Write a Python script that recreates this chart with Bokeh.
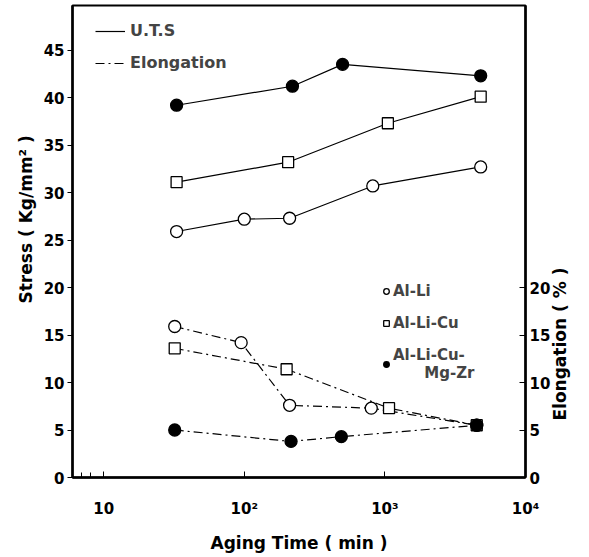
from math import pi
from bokeh.plotting import figure
from bokeh.models import LinearAxis, FixedTicker, Legend, LegendItem, Title
from bokeh.embed import file_html
from bokeh.resources import INLINE

# Aging time (min) and ultimate tensile strength (Kg/mm^2)
uts_li_t = [33, 100, 210, 820, 4800]
uts_li = [25.9, 27.2, 27.3, 30.7, 32.7]
uts_cu_t = [33, 205, 1050, 4800]
uts_cu = [31.1, 33.2, 37.3, 40.1]
uts_mg_t = [33, 220, 500, 4800]
uts_mg = [39.2, 41.2, 43.5, 42.3]

# Aging time (min) and elongation (%)
el_li_t = [32, 95, 210, 800, 4500]
el_li = [15.9, 14.2, 7.6, 7.3, 5.5]
el_cu_t = [32, 200, 1070, 4500]
el_cu = [13.6, 11.4, 7.3, 5.5]
el_mg_t = [32, 215, 490, 4500]
el_mg = [5.0, 3.8, 4.3, 5.5]

stress_ticks = [0, 5, 10, 15, 20, 25, 30, 35, 40, 45]
elong_ticks = [0, 5, 10, 15, 20]
time_ticks = [10, 100, 1000, 10000]
time_tick_labels = {10: "10", 100: "10\u00b2", 1000: "10\u00b3", 10000: "10\u2074"}

FONT = "DejaVu Sans"
FS = "15px"
BOLD = "bold"

p = figure(width=589, height=557, x_axis_type="log", x_range=(6, 10000),
           y_range=(0, 49.7), output_backend="svg", toolbar_location=None,
           min_border_left=72, min_border_right=64, min_border_top=5,
           min_border_bottom=80)
p.grid.visible = False
p.outline_line_color = "black"
p.outline_line_width = 2
p.background_fill_color = "white"
p.border_fill_color = "white"

# left axis
ya = p.yaxis[0]
ya.ticker = FixedTicker(ticks=stress_ticks)
ya.major_tick_out = 5
ya.major_tick_in = 0
ya.minor_tick_out = 0
ya.minor_tick_in = 0
ya.axis_line_width = 2.5
ya.major_tick_line_width = 1.2
ya.major_label_text_font = FONT
ya.major_label_text_font_size = FS
ya.major_label_text_font_style = BOLD
ya.major_label_text_color = "black"
ya.major_label_standoff = 3

# bottom axis
xa = p.xaxis[0]
xa.ticker = FixedTicker(ticks=time_ticks, minor_ticks=[7, 8])
xa.major_label_overrides = time_tick_labels
xa.major_tick_in = 6
xa.major_tick_out = 0
xa.minor_tick_in = 5
xa.minor_tick_out = 0
xa.axis_line_width = 2.5
xa.major_label_text_font = FONT
xa.major_label_text_font_size = FS
xa.major_label_text_font_style = BOLD
xa.major_label_text_color = "black"
xa.major_label_standoff = 22
xa.axis_label = "Aging Time ( min )"
xa.axis_label_text_font = FONT
xa.axis_label_text_font_size = "17px"
xa.axis_label_text_font_style = BOLD
xa.axis_label_text_color = "black"
xa.axis_label_standoff = 12

# right axis (elongation)
ra = LinearAxis(ticker=FixedTicker(ticks=elong_ticks))
ra.major_tick_in = 6
ra.major_tick_out = 0
ra.minor_tick_in = 0
ra.minor_tick_out = 0
ra.axis_line_width = 2.5
ra.major_label_text_font = FONT
ra.major_label_text_font_size = FS
ra.major_label_text_font_style = BOLD
ra.major_label_text_color = "black"
ra.major_label_standoff = 4
p.add_layout(ra, "right")

# right axis title, set along the lower part of the axis
ELONG_TITLE_AT = 6
ta = LinearAxis(ticker=FixedTicker(ticks=[ELONG_TITLE_AT]),
                major_label_overrides={ELONG_TITLE_AT: "Elongation ( % )"},
                major_label_orientation=pi / 2)
ta.axis_line_color = None
ta.major_tick_line_color = None
ta.minor_tick_line_color = None
ta.major_tick_in = 0
ta.major_tick_out = 0
ta.major_label_text_font = FONT
ta.major_label_text_font_size = "17px"
ta.major_label_text_font_style = BOLD
ta.major_label_text_color = "black"
ta.major_label_standoff = 7
p.add_layout(ta, "right")

LW = 1.2
DASH = "9 4 2 4"

# lines
uts_lines = []
for t, v in [(uts_li_t, uts_li), (uts_cu_t, uts_cu), (uts_mg_t, uts_mg)]:
    uts_lines.append(p.line(t, v, line_color="black", line_width=LW))
el_lines = []
for t, v in [(el_li_t, el_li), (el_cu_t, el_cu), (el_mg_t, el_mg)]:
    el_lines.append(p.line(t, v, line_color="black", line_width=LW, line_dash=DASH))

# markers
r_li = p.scatter(uts_li_t, uts_li, marker="circle", size=12, fill_color="white",
                 line_color="black", line_width=1.3)
p.scatter(el_li_t, el_li, marker="circle", size=12, fill_color="white",
          line_color="black", line_width=1.3)
r_cu = p.scatter(uts_cu_t, uts_cu, marker="square", size=11, fill_color="white",
                 line_color="black", line_width=1.3)
p.scatter(el_cu_t, el_cu, marker="square", size=11, fill_color="white",
          line_color="black", line_width=1.3)
r_mg = p.scatter(uts_mg_t, uts_mg, marker="circle", size=12, fill_color="black",
                 line_color="black", line_width=1.3)
p.scatter(el_mg_t, el_mg, marker="circle", size=12, fill_color="black",
          line_color="black", line_width=1.3)

# line-style legend
leg1 = Legend(items=[LegendItem(label="U.T.S", renderers=[uts_lines[0]]),
                     LegendItem(label="Elongation", renderers=[el_lines[0]])],
              location=(23, 405), glyph_width=30, glyph_height=16,
              label_height=16, spacing=13, padding=0, margin=0,
              label_standoff=5, border_line_color=None,
              background_fill_alpha=0, label_text_font=FONT,
              label_text_font_size="16px", label_text_font_style=BOLD)
p.add_layout(leg1)

# alloy legend
leg2 = Legend(items=[LegendItem(label="Al-Li", renderers=[r_li]),
                     LegendItem(label="Al-Li-Cu", renderers=[r_cu]),
                     LegendItem(label="Al-Li-Cu-\n      Mg-Zr", renderers=[r_mg])],
              location=(307, 95), glyph_width=14, glyph_height=16,
              label_height=16, spacing=14, padding=0, margin=0,
              label_standoff=0, border_line_color=None,
              background_fill_alpha=0, label_text_font=FONT,
              label_text_font_size=FS, label_text_font_style=BOLD)
p.add_layout(leg2)

# left axis title
p.add_layout(Title(text="Stress ( Kg/mm\u00b2 )", align="left", offset=174,
                   text_font=FONT, text_font_size="17px",
                   text_font_style=BOLD, text_color="black"), "left")

open("out.html", "w").write(file_html(p, INLINE))
